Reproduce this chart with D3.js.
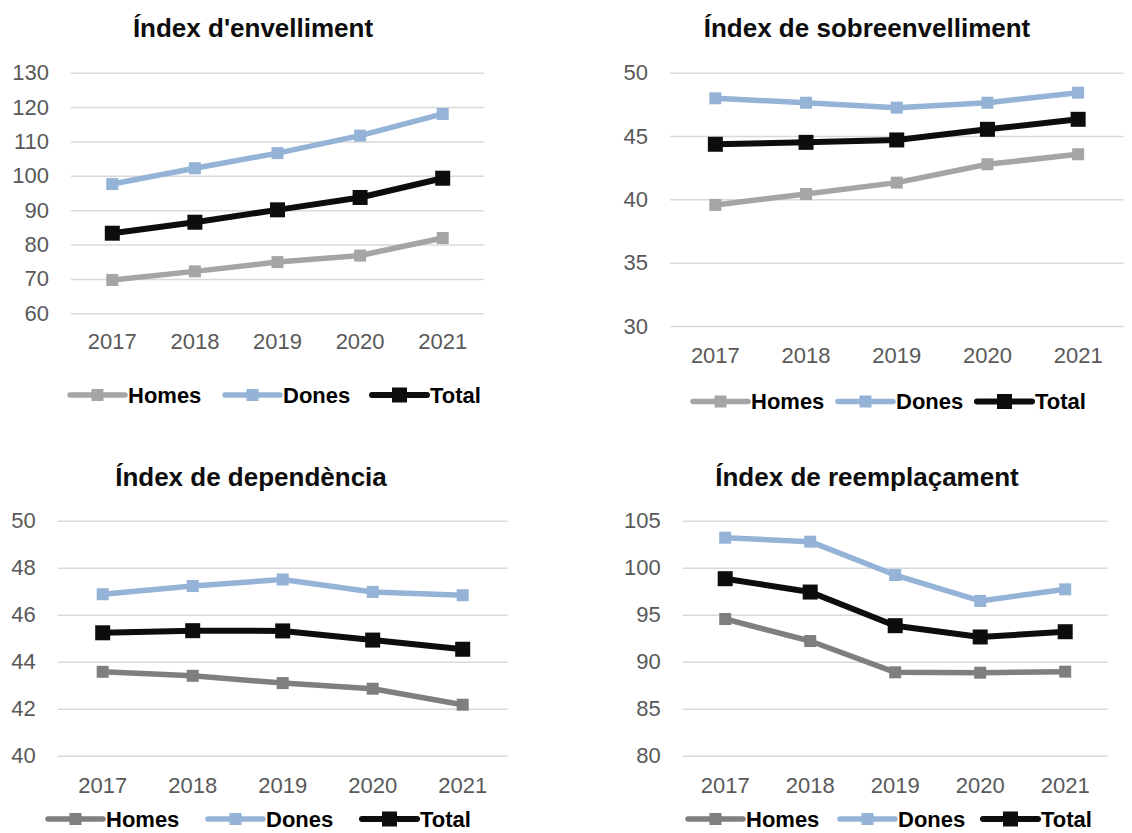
<!DOCTYPE html>
<html>
<head>
<meta charset="utf-8">
<script src="https://cdn.jsdelivr.net/npm/d3@7"></script>
<style>
  body { margin: 0; background: #fff; }
  text { font-family: "Liberation Sans", Arial, sans-serif; }
</style>
</head>
<body>
<div id="chart"></div>
<script>
// data
var years = ["2017", "2018", "2019", "2020", "2021"];
var seriesNames = ["Homes", "Dones", "Total"];

var envHomes = [69.7, 72.2, 74.9, 76.8, 81.9];
var envDones = [97.6, 102.2, 106.6, 111.7, 118.0];
var envTotal = [83.3, 86.5, 90.1, 93.7, 99.3];

var sobHomes = [39.56, 40.42, 41.32, 42.77, 43.56];
var sobDones = [47.98, 47.63, 47.24, 47.63, 48.42];
var sobTotal = [44.35, 44.5, 44.69, 45.53, 46.32];

var depHomes = [43.57, 43.4, 43.09, 42.85, 42.17];
var depDones = [46.87, 47.22, 47.5, 46.97, 46.83];
var depTotal = [45.23, 45.32, 45.31, 44.92, 44.53];

var reeHomes = [94.54, 92.2, 88.87, 88.83, 88.94];
var reeDones = [103.19, 102.77, 99.22, 96.46, 97.7];
var reeTotal = [98.83, 97.41, 93.83, 92.63, 93.19];

var envTicks = [60, 70, 80, 90, 100, 110, 120, 130];
var sobTicks = [30, 35, 40, 45, 50];
var depTicks = [40, 42, 44, 46, 48, 50];
var reeTicks = [80, 85, 90, 95, 100, 105];

// layout of each panel
var panels = [
  { title: "Índex d'envelliment", titleX: 253, titleY: 37,
    left: 71, right: 484, top: 72.7, bottom: 313.3, ticks: envTicks,
    xLabelY: 341, legendY: 395, legendX: [70, 225, 372], homesColor: "#A5A5A5",
    series: [envHomes, envDones, envTotal] },
  { title: "Índex de sobreenvelliment", titleX: 867, titleY: 37,
    left: 670, right: 1123.5, top: 72.7, bottom: 326, ticks: sobTicks,
    xLabelY: 355, legendY: 401.5, legendX: [693, 838, 977], homesColor: "#A5A5A5",
    series: [sobHomes, sobDones, sobTotal] },
  { title: "Índex de dependència", titleX: 251, titleY: 486,
    left: 57.7, right: 507.7, top: 520.7, bottom: 755.7, ticks: depTicks,
    xLabelY: 785, legendY: 819, legendX: [48, 208, 362], homesColor: "#7F7F7F",
    series: [depHomes, depDones, depTotal] },
  { title: "Índex de reemplaçament", titleX: 867, titleY: 486,
    left: 682.7, right: 1107.7, top: 520.7, bottom: 755.7, ticks: reeTicks,
    xLabelY: 785, legendY: 819, legendX: [688, 840, 983], homesColor: "#7F7F7F",
    series: [reeHomes, reeDones, reeTotal] }
];

var svg = d3.select("#chart").append("svg")
    .attr("width", 1132)
    .attr("height", 833);

panels.forEach(function(p) {
  var colors = [p.homesColor, "#95B3D7", "#0D0D0D"];
  var widths = [5.5, 5.5, 6];
  var markers = [12, 12, 15];

  var x = d3.scaleBand()
      .domain(years)
      .range([p.left, p.right]);

  var y = d3.scaleLinear()
      .domain([p.ticks[0], p.ticks[p.ticks.length - 1]])
      .range([p.bottom, p.top]);

  // title
  svg.append("text")
      .attr("x", p.titleX)
      .attr("y", p.titleY)
      .attr("text-anchor", "middle")
      .style("font-size", "26px")
      .style("font-weight", "bold")
      .style("fill", "#0D0D0D")
      .text(p.title);

  // gridlines + y labels
  var yAxis = svg.append("g")
      .attr("transform", "translate(" + p.left + ",0)")
      .call(d3.axisLeft(y).tickValues(p.ticks).tickSize(-(p.right - p.left)).tickPadding(22));
  yAxis.select(".domain").remove();
  yAxis.selectAll("line").attr("stroke", "#D9D9D9").attr("stroke-width", 1.5);
  yAxis.selectAll("text")
      .style("font-size", "22px")
      .style("fill", "#595959")
      .attr("font-family", null);

  // x labels
  var xAxis = svg.append("g")
      .attr("transform", "translate(0," + p.bottom + ")")
      .call(d3.axisBottom(x).tickSize(0).tickPadding(0));
  xAxis.select(".domain").remove();
  xAxis.selectAll("text")
      .attr("y", p.xLabelY - p.bottom)
      .attr("dy", "0.35em")
      .style("font-size", "22px")
      .style("fill", "#595959")
      .attr("font-family", null);

  var line = d3.line()
      .x(function(d, i) { return x(years[i]) + x.bandwidth() / 2; })
      .y(function(d) { return y(d); });

  p.series.forEach(function(vals, s) {
    svg.append("path")
        .datum(vals)
        .attr("d", line)
        .attr("fill", "none")
        .attr("stroke", colors[s])
        .attr("stroke-width", widths[s])
        .attr("stroke-linejoin", "round");

    svg.selectAll(null)
        .data(vals)
        .enter()
        .append("rect")
        .attr("x", function(d, i) { return x(years[i]) + x.bandwidth() / 2 - markers[s] / 2; })
        .attr("y", function(d) { return y(d) - markers[s] / 2; })
        .attr("width", markers[s])
        .attr("height", markers[s])
        .style("fill", colors[s]);
  });

  // legend
  seriesNames.forEach(function(name, s) {
    var lx = p.legendX[s];
    var g = svg.append("g");
    g.append("line")
        .attr("x1", lx).attr("x2", lx + 55)
        .attr("y1", p.legendY).attr("y2", p.legendY)
        .attr("stroke", colors[s])
        .attr("stroke-width", widths[s])
        .attr("stroke-linecap", "round");
    g.append("rect")
        .attr("x", lx + 27.5 - markers[s] / 2)
        .attr("y", p.legendY - markers[s] / 2)
        .attr("width", markers[s])
        .attr("height", markers[s])
        .style("fill", colors[s]);
    g.append("text")
        .attr("x", lx + 58)
        .attr("y", p.legendY)
        .attr("dy", "0.35em")
        .style("font-size", "22px")
        .style("font-weight", "bold")
        .style("fill", "#000")
        .text(name);
  });
});
</script>
</body>
</html>
